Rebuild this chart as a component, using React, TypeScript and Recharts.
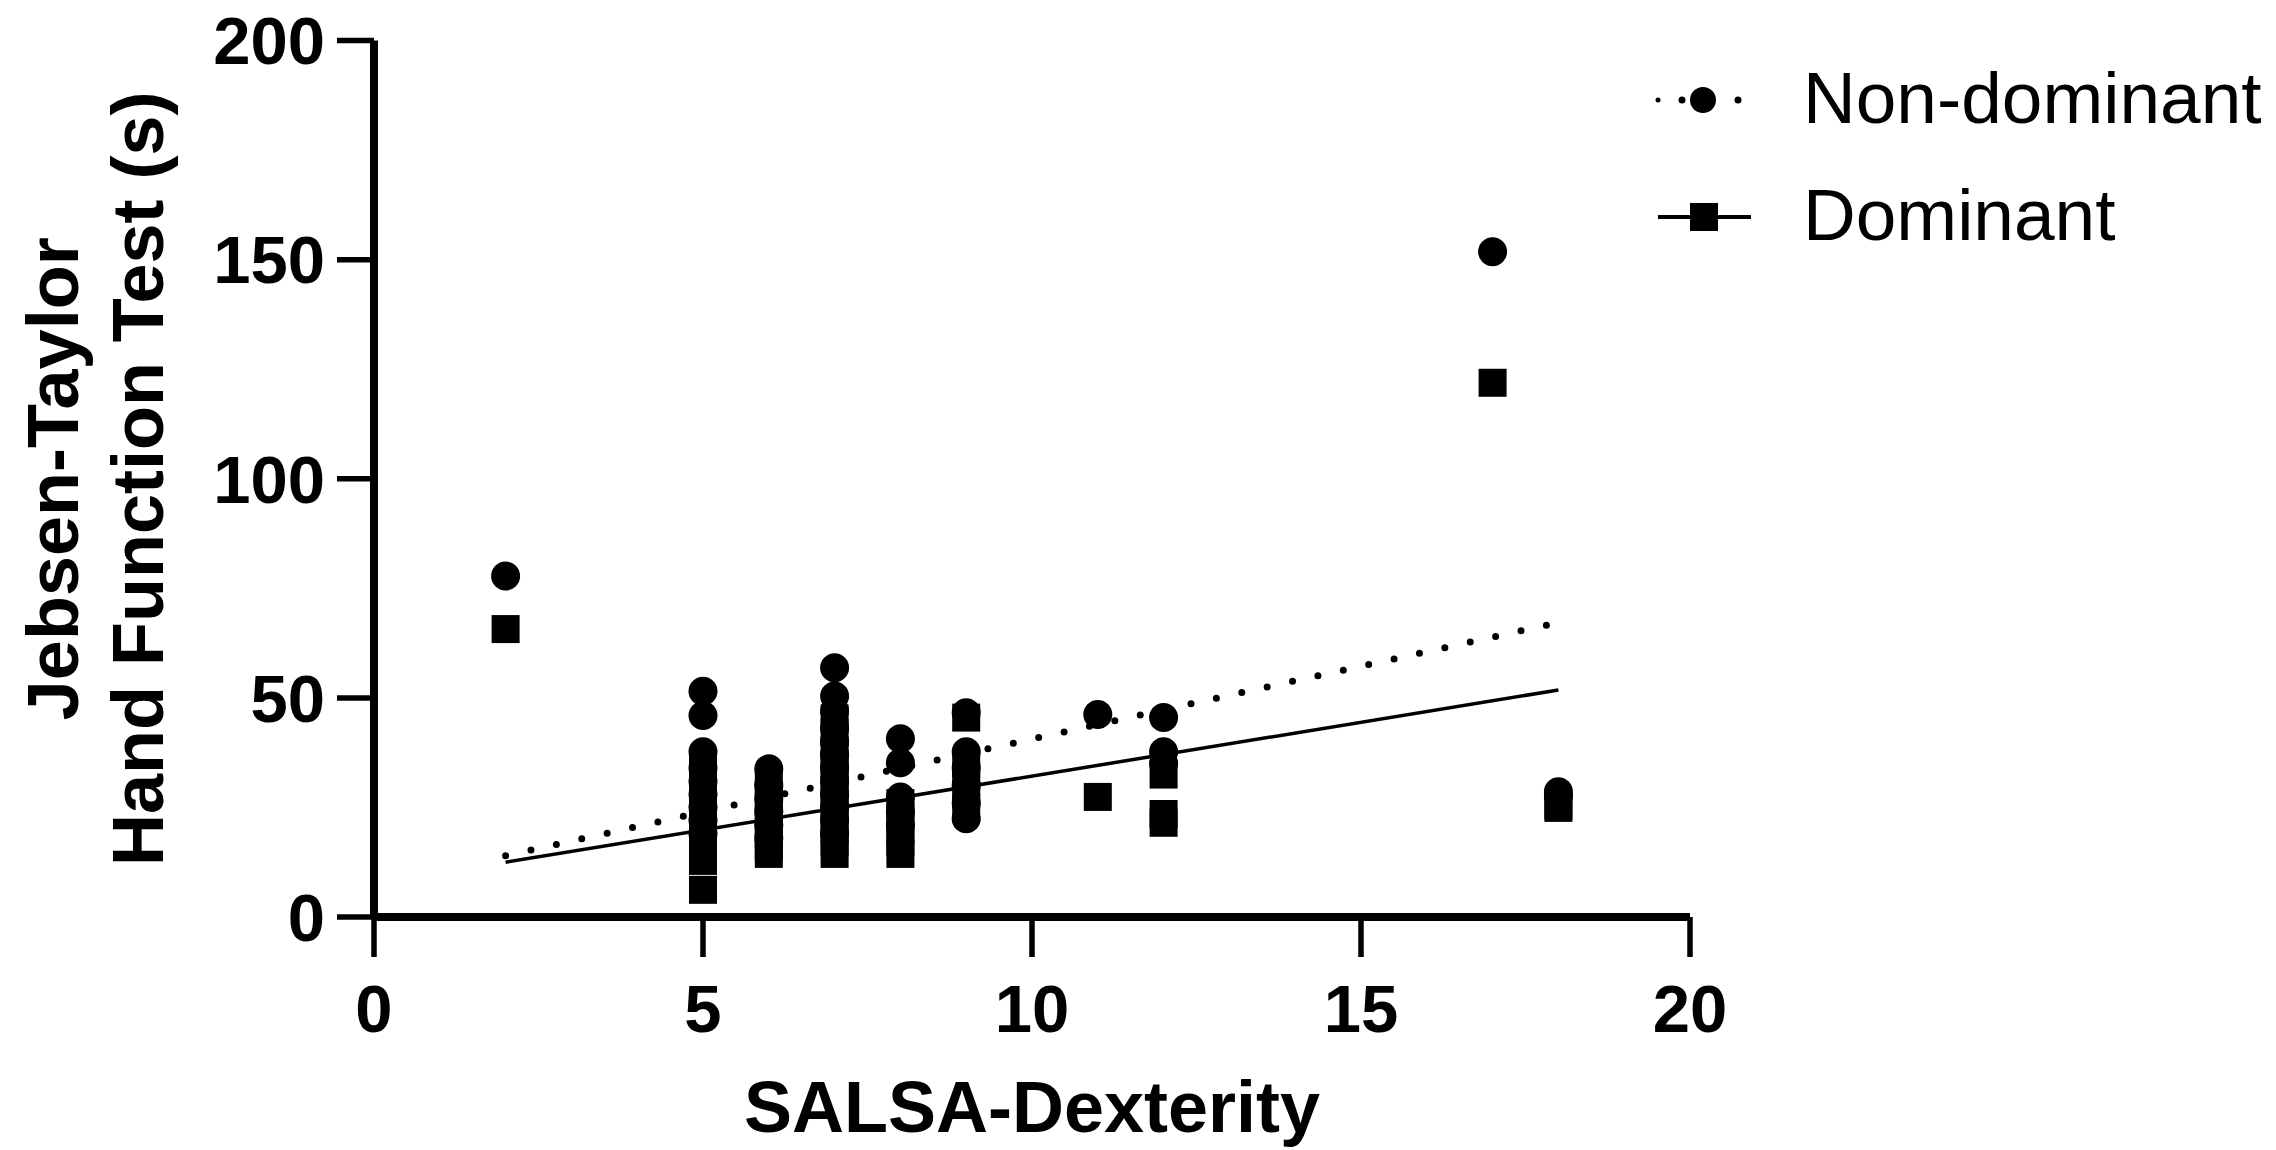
import React from 'react';
import { ScatterChart, Scatter, XAxis, YAxis, Legend, Label } from 'recharts';

// ---- data ----
const xTicks = [0, 5, 10, 15, 20];
const yTicks = [0, 50, 100, 150, 200];

const nonDominantX = [
  2,
  5, 5, 5, 5, 5, 5, 5, 5, 5,
  6, 6, 6, 6, 6, 6,
  7, 7, 7, 7, 7, 7, 7, 7, 7, 7, 7, 7,
  8, 8, 8, 8, 8,
  9, 9, 9, 9, 9, 9,
  11,
  12, 12, 12,
  17,
  18, 18,
];
const nonDominantY = [
  77.8,
  51.5, 46, 37.7, 34, 31, 28, 25, 22, 19,
  33.8, 30, 27, 24, 21, 18,
  56.9, 50.4, 47, 43, 40, 37, 34, 31, 28, 25, 22, 19,
  40.7, 35.2, 27.4, 24, 21,
  46.6, 37.7, 34, 30, 26, 22.4,
  46.2,
  45.5, 37.7, 35,
  151.8,
  28.6, 27.5,
];

const dominantX = [
  2,
  5, 5, 5, 5, 5, 5, 5, 5, 5,
  6, 6, 6, 6, 6, 6, 6,
  7, 7, 7, 7, 7, 7, 7, 7, 7, 7, 7,
  8, 8, 8, 8, 8,
  9, 9, 9, 9, 9,
  11,
  12, 12, 12,
  17,
  18, 18,
];
const dominantY = [
  65.7,
  35, 30, 27, 24, 21, 18, 15, 12.8, 6.2,
  31, 28, 25, 22, 19, 16, 14.4,
  45.3, 42, 38, 35, 32, 29, 26, 23, 20, 17, 14.4,
  26, 23, 20, 17, 14.4,
  45.5, 35, 32, 28, 25,
  27.4,
  32.5, 23.5, 21.5,
  121.9,
  25.5, 24.9,
];

const nonDominantFitX = [2, 18];
const nonDominantFitY = [14, 67.2];
const dominantFitX = [2, 18];
const dominantFitY = [12.5, 51.8];

const seriesNames = ['Non-dominant', 'Dominant'];
const xTitle = 'SALSA-Dexterity';
const yTitleLines = ['Jebsen-Taylor', 'Hand Function Test (s)'];

// ---- build tables ----
const toPoints = (xs: number[], ys: number[]) => xs.map((x, i) => ({ x, y: ys[i] }));
const nonDominantData = toPoints(nonDominantX, nonDominantY);
const dominantData = toPoints(dominantX, dominantY);
const nonDominantFit = toPoints(nonDominantFitX, nonDominantFitY);
const dominantFit = toPoints(dominantFitX, dominantFitY);

const FONT = '"Liberation Sans", Arial, sans-serif';

const CircleShape = (p: any) => <circle cx={p.cx} cy={p.cy} r={14.5} fill="#000" />;
const SquareShape = (p: any) => <rect x={p.cx - 14} y={p.cy - 14} width={28} height={28} fill="#000" />;
const NoShape = () => <g />;

const YTitle = (props: any) => {
  const vb = props.viewBox || { x: 0, y: 0, width: 0, height: 0 };
  const cy = vb.y + vb.height / 2;
  const x1 = vb.x + 78;
  const x2 = vb.x + 163;
  return (
    <g>
      <text x={x1} y={cy} transform={`rotate(-90, ${x1}, ${cy})`} textAnchor="middle"
        fontFamily={FONT} fontWeight={700} fontSize={72} fill="#000">{yTitleLines[0]}</text>
      <text x={x2} y={cy} transform={`rotate(-90, ${x2}, ${cy})`} textAnchor="middle"
        fontFamily={FONT} fontWeight={700} fontSize={72} fill="#000">{yTitleLines[1]}</text>
    </g>
  );
};

const XTitle = (props: any) => {
  const vb = props.viewBox || { x: 0, y: 0, width: 0, height: 0 };
  return (
    <text x={vb.x + vb.width / 2} y={vb.y + 215} textAnchor="middle"
      fontFamily={FONT} fontWeight={700} fontSize={72} fill="#000">{xTitle}</text>
  );
};

const renderLegend = () => (
  <svg width={626} height={240} style={{ display: 'block', overflow: 'visible' }}>
    <circle cx={8} cy={60} r={2.5} fill="#000" />
    <circle cx={32} cy={60} r={3.5} fill="#000" />
    <circle cx={53} cy={60} r={13} fill="#000" />
    <circle cx={88} cy={60} r={3.5} fill="#000" />
    <text x={153} y={83} fontFamily={FONT} fontSize={73} fill="#000">{seriesNames[0]}</text>
    <line x1={8} y1={177} x2={101} y2={177} stroke="#000" strokeWidth={4} />
    <rect x={40} y={163} width={28} height={28} fill="#000" />
    <text x={153} y={200} fontFamily={FONT} fontSize={73} fill="#000">{seriesNames[1]}</text>
  </svg>
);

const tickStyle = { fontSize: 67, fontWeight: 700, fontFamily: FONT, fill: '#000' };

export default function App() {
  return (
    <div style={{ position: 'absolute', left: 0, top: 0, background: '#fff' }}>
      <ScatterChart
        width={2276}
        height={1150}
        margin={{ top: 40.5, right: 586, bottom: 173, left: 0 }}
      >
        <XAxis
          type="number"
          dataKey="x"
          domain={[0, 20]}
          ticks={xTicks}
          interval={0}
          height={60}
          axisLine={{ stroke: '#000', strokeWidth: 8 }}
          tickLine={{ stroke: '#000', strokeWidth: 5.5 }}
          tickSize={40}
          tickMargin={27}
          tick={tickStyle}
        >
          <Label content={XTitle} />
        </XAxis>
        <YAxis
          type="number"
          dataKey="y"
          domain={[0, 200]}
          ticks={yTicks}
          interval={0}
          width={374}
          axisLine={{ stroke: '#000', strokeWidth: 8 }}
          tickLine={{ stroke: '#000', strokeWidth: 5.5 }}
          tickSize={37}
          tickMargin={12}
          tick={tickStyle}
        >
          <Label content={YTitle} />
        </YAxis>
        <Legend
          layout="horizontal"
          align="center"
          verticalAlign="middle"
          content={renderLegend}
          wrapperStyle={{ left: 1650, top: 40, width: 626, height: 240 }}
        />
        <Scatter
          name="Non-dominant fit"
          data={nonDominantFit}
          fill="#000"
          line={{ stroke: '#000', strokeWidth: 7, strokeDasharray: '0 26', strokeLinecap: 'round' }}
          shape={NoShape}
          isAnimationActive={false}
        />
        <Scatter
          name="Dominant fit"
          data={dominantFit}
          fill="#000"
          line={{ stroke: '#000', strokeWidth: 3.5 }}
          shape={NoShape}
          isAnimationActive={false}
        />
        <Scatter
          name={seriesNames[0]}
          data={nonDominantData}
          fill="#000"
          shape={CircleShape}
          isAnimationActive={false}
        />
        <Scatter
          name={seriesNames[1]}
          data={dominantData}
          fill="#000"
          shape={SquareShape}
          isAnimationActive={false}
        />
      </ScatterChart>
    </div>
  );
}
